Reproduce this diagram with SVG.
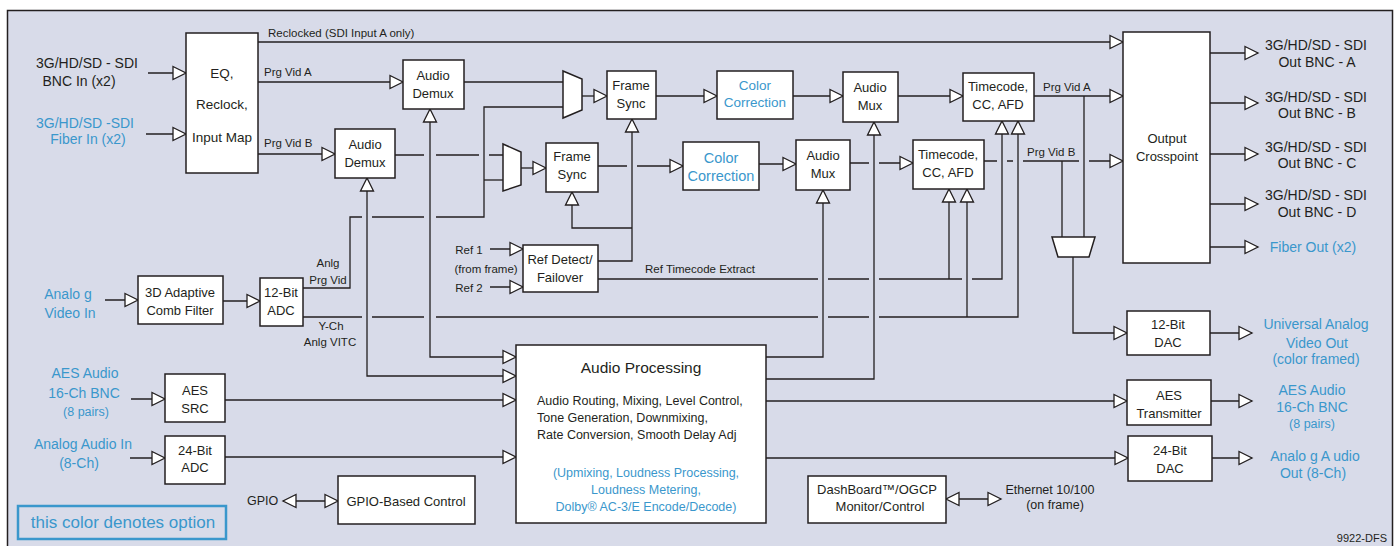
<svg xmlns="http://www.w3.org/2000/svg" width="1400" height="546" viewBox="0 0 1400 546">
<style>
text{font-family:"Liberation Sans",Arial,sans-serif;fill:#231f20}
.c{text-anchor:middle}
.f13{font-size:13px}
.f14{font-size:14px}
.f12{font-size:12.5px}
.fs{font-size:11.5px}
.bl{fill:#3a97cc}
.bx{fill:#fff;stroke:#231f20;stroke-width:1.5}
.ln{fill:none;stroke:#231f20;stroke-width:1.3}
.a{marker-end:url(#ar)}
.b{marker-start:url(#ar);marker-end:url(#ar)}
</style>
<defs>
<marker id="ar" markerUnits="userSpaceOnUse" markerWidth="14" markerHeight="14" refX="13" refY="6.5" orient="auto-start-reverse" overflow="visible">
<path d="M0,0 L13,6.5 L0,13 Z" fill="#fff" stroke="#231f20" stroke-width="1.3"/>
</marker>
</defs>
<rect x="7.5" y="10.5" width="1385" height="545" fill="#d8dbe9" stroke="#231f20" stroke-width="1.5"/>

<g id="connectors">
<path class="ln a" d="M148,73 H186"/>
<path class="ln a" d="M146,134 H186"/>
<path class="ln a" d="M258,42 H1123"/>
<path class="ln a" d="M258,82 H403"/>
<path class="ln a" d="M258,154 H335"/>
<path class="ln" d="M464,82 H563"/>
<path class="ln" d="M303,288 H350 V217 H362 M372,217 H424 M436,217 H484 V107 H563"/>
<path class="ln" d="M484,180 H503"/>
<path class="ln a" d="M582,96 H607"/>
<path class="ln a" d="M656,96 H717"/>
<path class="ln a" d="M793,96 H843"/>
<path class="ln a" d="M898,96 H963"/>
<path class="ln a" d="M1034,96 H1123"/>
<path class="ln" d="M395,155 H424 M436,155 H479 M489,155 H503"/>
<path class="ln a" d="M521,168 H546"/>
<path class="ln a" d="M598,166 H627 M637,166 H683"/>
<path class="ln a" d="M759,164 H796"/>
<path class="ln a" d="M850,163 H869 M879,163 H913"/>
<path class="ln a" d="M984,161 H997 M1007,161 H1013 M1023,161 H1079 M1089,161 H1123"/>
<path class="ln" d="M1084,96 V237"/>
<path class="ln" d="M1062,161 V237"/>
<path class="ln a" d="M1073,257 V333 H1127"/>
<path class="ln a" d="M1210,53 H1258"/>
<path class="ln a" d="M1210,103 H1258"/>
<path class="ln a" d="M1210,154 H1258"/>
<path class="ln a" d="M1210,204 H1258"/>
<path class="ln a" d="M1210,247 H1258"/>
<path class="ln a" d="M105,300 H138"/>
<path class="ln a" d="M223,301 H260"/>
<path class="ln a" d="M303,317 H362 M372,317 H424 M436,317 H818 M828,317 H869 M879,317 H1018 V121"/>
<path class="ln a" d="M967,317 V189"/>
<path class="ln a" d="M598,279 H818 M828,279 H869 M879,279 H962 M972,279 H1002 V121"/>
<path class="ln a" d="M949,279 V189"/>
<path class="ln a" d="M598,261 H632 V119"/>
<path class="ln a" d="M632,228 H572 V192"/>
<path class="ln a" d="M490,249 H523"/>
<path class="ln a" d="M490,287 H523"/>
<path class="ln b" d="M430,109 V357 H516"/>
<path class="ln b" d="M367,178 V376 H516"/>
<path class="ln a" d="M766,357 H823 V190"/>
<path class="ln a" d="M766,379 H874 V122"/>
<path class="ln a" d="M766,401 H1127"/>
<path class="ln a" d="M766,458 H1128"/>
<path class="ln a" d="M131,399 H165"/>
<path class="ln a" d="M225,400 H516"/>
<path class="ln a" d="M130,458 H165"/>
<path class="ln a" d="M225,457 H516"/>
<path class="ln a" d="M1210,333 H1252"/>
<path class="ln a" d="M1211,401 H1252"/>
<path class="ln a" d="M1212,458 H1252"/>
<path class="ln b" d="M283,501 H338"/>
<path class="ln b" d="M946,499 H1001"/>
</g>

<g id="mux-a"><polygon class="bx" points="563,71 582,79 582,110 563,118"/></g>
<g id="mux-b"><polygon class="bx" points="503,144 521,152 521,185 503,191"/></g>
<g id="mux-out"><polygon class="bx" points="1052,237 1095,237 1089,257 1058,257"/></g>

<g id="eq"><rect class="bx" x="186" y="33" width="72" height="140"/>
<text class="c" font-size="13.5" x="222" y="78">EQ,</text>
<text class="c" font-size="13.5" x="222" y="109">Reclock,</text>
<text class="c" font-size="13.5" x="222" y="142">Input Map</text></g>

<g id="in-labels">
<text class="c f14" x="87" y="68">3G/HD/SD - SDI</text>
<text class="c f14" x="79" y="86">BNC In (x2)</text>
<text class="c f14 bl" x="85" y="128">3G/HD/SD -SDI</text>
<text class="c f14 bl" x="88" y="144">Fiber In (x2)</text>
<text class="fs" x="268" y="37">Reclocked (SDI Input A only)</text>
<text class="fs" x="264" y="76">Prg Vid A</text>
<text class="fs" x="264" y="147">Prg Vid B</text>
</g>

<g id="demux-a"><rect class="bx" x="403" y="60" width="61" height="49"/>
<text class="c f13" x="433" y="80">Audio</text><text class="c f13" x="433" y="98">Demux</text></g>
<g id="demux-b"><rect class="bx" x="335" y="129" width="60" height="49"/>
<text class="c f13" x="365" y="149">Audio</text><text class="c f13" x="365" y="167">Demux</text></g>
<g id="fs-a"><rect class="bx" x="607" y="71" width="49" height="48"/>
<text class="c f13" x="631" y="90">Frame</text><text class="c f13" x="631" y="108">Sync</text></g>
<g id="fs-b"><rect class="bx" x="546" y="143" width="52" height="49"/>
<text class="c f13" x="572" y="161">Frame</text><text class="c f13" x="572" y="179">Sync</text></g>
<g id="cc-a"><rect class="bx" x="717" y="71" width="76" height="48"/>
<text class="c bl" font-size="13.5" x="755" y="90">Color</text><text class="c bl" font-size="13.5" x="755" y="107">Correction</text></g>
<g id="cc-b"><rect class="bx" x="683" y="142" width="76" height="48"/>
<text class="c bl" font-size="14.5" x="721" y="163">Color</text><text class="c bl" font-size="14.5" x="721" y="181">Correction</text></g>
<g id="amux-a"><rect class="bx" x="843" y="72" width="55" height="50"/>
<text class="c f13" x="870" y="92">Audio</text><text class="c f13" x="870" y="110">Mux</text></g>
<g id="amux-b"><rect class="bx" x="796" y="140" width="54" height="50"/>
<text class="c f13" x="823" y="160">Audio</text><text class="c f13" x="823" y="178">Mux</text></g>
<g id="tc-a"><rect class="bx" x="963" y="73" width="71" height="48"/>
<text class="c f13" x="998" y="91">Timecode,</text><text class="c f13" x="998" y="109">CC, AFD</text></g>
<g id="tc-b"><rect class="bx" x="913" y="140" width="71" height="49"/>
<text class="c f13" x="948" y="159">Timecode,</text><text class="c f13" x="948" y="177">CC, AFD</text></g>
<g id="prg-labels">
<text class="fs" x="1043" y="91">Prg Vid A</text>
<text class="fs" x="1027" y="156">Prg Vid B</text>
</g>

<g id="crosspoint"><rect class="bx" x="1123" y="32" width="87" height="231"/>
<text class="c f13" x="1167" y="143">Output</text><text class="c f13" x="1167" y="161">Crosspoint</text></g>
<g id="out-labels">
<text class="c f14" x="1316" y="50">3G/HD/SD - SDI</text><text class="c f14" x="1317" y="67">Out BNC - A</text>
<text class="c f14" x="1316" y="102">3G/HD/SD - SDI</text><text class="c f14" x="1317" y="118">Out BNC - B</text>
<text class="c f14" x="1316" y="152">3G/HD/SD - SDI</text><text class="c f14" x="1317" y="168">Out BNC - C</text>
<text class="c f14" x="1316" y="200">3G/HD/SD - SDI</text><text class="c f14" x="1317" y="217">Out BNC - D</text>
<text class="c f14 bl" x="1313" y="252">Fiber Out (x2)</text>
</g>

<g id="analog-in">
<text class="c f14 bl" x="68" y="299">Analo g</text>
<text class="c f14 bl" x="70" y="318">Video In</text>
</g>
<g id="comb"><rect class="bx" x="138" y="276" width="85" height="48"/>
<text class="c f13" x="180" y="297">3D Adaptive</text><text class="c f13" x="180" y="315">Comb Filter</text></g>
<g id="adc12"><rect class="bx" x="260" y="278" width="43" height="48"/>
<text class="c f13" x="281" y="297">12-Bit</text><text class="c f13" x="281" y="315">ADC</text></g>
<g id="adc-labels">
<text class="c fs" x="328" y="267">Anlg</text><text class="c fs" x="328" y="284">Prg Vid</text>
<text class="c fs" x="331" y="330">Y-Ch</text><text class="c fs" x="330" y="346">Anlg VITC</text>
</g>

<g id="ref-labels">
<text class="c fs" x="469" y="254">Ref 1</text>
<text class="c fs" x="486" y="273">(from frame)</text>
<text class="c fs" x="469" y="292">Ref 2</text>
<text class="fs" x="645" y="273">Ref Timecode Extract</text>
</g>
<g id="refdetect"><rect class="bx" x="523" y="245" width="75" height="47"/>
<text class="c f13" x="560" y="264">Ref Detect/</text><text class="c f13" x="560" y="282">Failover</text></g>

<g id="audio-proc"><rect class="bx" x="516" y="345" width="250" height="178"/>
<text class="c" font-size="15.5" x="641" y="373">Audio Processing</text>
<text class="f12" x="537" y="405">Audio Routing, Mixing, Level Control,</text>
<text class="f12" x="537" y="422">Tone Generation, Downmixing,</text>
<text class="f12" x="537" y="439">Rate Conversion, Smooth Delay Adj</text>
<text class="c f12 bl" x="646" y="477">(Upmixing, Loudness Processing,</text>
<text class="c f12 bl" x="646" y="494">Loudness Metering,</text>
<text class="c f12 bl" x="646" y="511">Dolby® AC-3/E Encode/Decode)</text></g>

<g id="aes-in-labels">
<text class="c f14 bl" x="85" y="378">AES Audio</text>
<text class="c f14 bl" x="84" y="398">16-Ch BNC</text>
<text class="c f12 bl" x="86" y="416">(8 pairs)</text>
<text class="c f14 bl" x="83" y="449">Analog Audio In</text>
<text class="c f14 bl" x="79" y="468">(8-Ch)</text>
</g>
<g id="aes-src"><rect class="bx" x="165" y="374" width="60" height="48"/>
<text class="c f13" x="195" y="395">AES</text><text class="c f13" x="195" y="413">SRC</text></g>
<g id="adc24"><rect class="bx" x="165" y="436" width="60" height="48"/>
<text class="c f13" x="195" y="455">24-Bit</text><text class="c f13" x="195" y="472">ADC</text></g>

<g id="gpio">
<text class="f12" x="247" y="505">GPIO</text>
<rect class="bx" x="338" y="476" width="137" height="48"/>
<text class="c f13" x="406" y="506">GPIO-Based Control</text></g>

<g id="legend"><rect x="18" y="506" width="208" height="33" fill="none" stroke="#3a97cc" stroke-width="2.5"/>
<text class="c bl" font-size="17" x="123" y="528">this color denotes option</text></g>

<g id="dac12"><rect class="bx" x="1127" y="311" width="83" height="44"/>
<text class="c f13" x="1168" y="329">12-Bit</text><text class="c f13" x="1168" y="347">DAC</text></g>
<g id="aes-tx"><rect class="bx" x="1127" y="380" width="84" height="45"/>
<text class="c f13" x="1169" y="400">AES</text><text class="c f13" x="1169" y="418">Transmitter</text></g>
<g id="dac24"><rect class="bx" x="1128" y="436" width="84" height="45"/>
<text class="c f13" x="1170" y="455">24-Bit</text><text class="c f13" x="1170" y="473">DAC</text></g>
<g id="out2-labels">
<text class="c f14 bl" x="1316" y="329">Universal Analog</text>
<text class="c f14 bl" x="1317" y="348">Video Out</text>
<text class="c f14 bl" x="1316" y="364">(color framed)</text>
<text class="c f14 bl" x="1312" y="395">AES Audio</text>
<text class="c f14 bl" x="1312" y="412">16-Ch BNC</text>
<text class="c f12 bl" x="1312" y="428">(8 pairs)</text>
<text class="c f14 bl" x="1315" y="461">Analo g A udio</text>
<text class="c f14 bl" x="1313" y="478">Out (8-Ch)</text>
</g>

<g id="dashboard"><rect class="bx" x="808" y="476" width="138" height="47"/>
<text class="c f13" x="877" y="494">DashBoard™/OGCP</text><text class="c f13" x="880" y="511">Monitor/Control</text></g>
<g id="eth">
<text class="c f12" x="1050" y="494">Ethernet 10/100</text>
<text class="c f12" x="1055" y="509">(on frame)</text>
</g>
<text x="1387" y="542" font-size="11" text-anchor="end">9922-DFS</text>
</svg>
